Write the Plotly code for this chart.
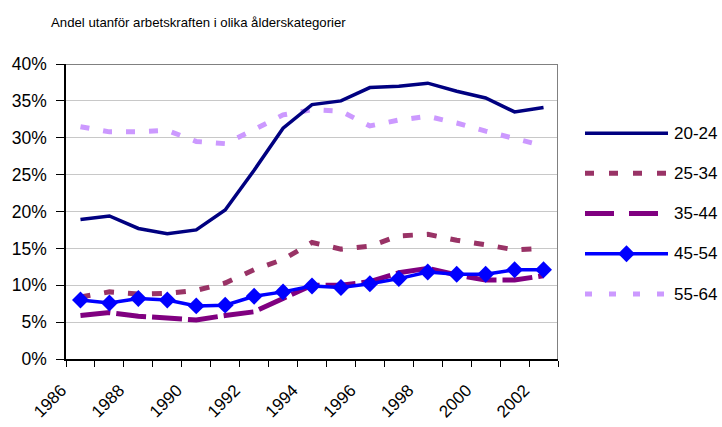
import plotly.graph_objects as go

years = list(range(1986, 2003))
tick_years = [1986, 1988, 1990, 1992, 1994, 1996, 1998, 2000, 2002]
y_ticks = [0, 5, 10, 15, 20, 25, 30, 35, 40]

s20_24 = [18.9, 19.4, 17.7, 17.0, 17.5, 20.2, 25.6, 31.3, 34.5, 35.0, 36.8, 37.0, 37.4, 36.3, 35.4, 33.5, 34.1]
s25_34 = [8.4, 9.1, 8.8, 8.9, 9.3, 10.3, 12.1, 13.5, 15.8, 14.9, 15.3, 16.7, 16.9, 16.1, 15.5, 14.8, 15.0]
s35_44 = [5.9, 6.3, 5.8, 5.5, 5.3, 5.9, 6.4, 8.2, 10.0, 10.0, 10.5, 11.7, 12.3, 11.4, 10.7, 10.7, 11.3]
s45_54 = [8.0, 7.6, 8.2, 8.0, 7.2, 7.3, 8.5, 9.1, 9.9, 9.7, 10.2, 10.9, 11.8, 11.5, 11.5, 12.1, 12.1]
s55_64 = [31.5, 30.8, 30.8, 31.0, 29.5, 29.2, 31.1, 33.1, 33.8, 33.6, 31.6, 32.4, 32.9, 32.0, 30.9, 29.9, 28.9]

names = ["20-24", "25-34", "35-44", "45-54", "55-64"]
series = [s20_24, s25_34, s35_44, s45_54, s55_64]
colors = ["#000080", "#993366", "#800080", "#0000FF", "#CC99FF"]
widths = [3.5, 5, 5, 3.5, 5]
dashes = ["solid", "10px,14px", "30px,6px", "solid", "9px,14px"]
leg_dashes = ["solid", "9px,15px", "29px,15px", "solid", "7px,17px"]
markers = [None, None, None, "diamond", None]

fig = go.Figure()

order = [4, 1, 2, 0, 3]
for i in order:
    kw = dict(mode="lines")
    if markers[i]:
        kw = dict(mode="lines+markers", marker=dict(symbol="diamond", size=13, color=colors[i]))
    fig.add_trace(go.Scatter(x=years, y=series[i], name=names[i], showlegend=False,
                             line=dict(color=colors[i], width=widths[i], dash=dashes[i]), **kw))

plot_w = 492
paper_w = 722 - 66 - 10
dom = plot_w / paper_w
leg_x0 = (585 - 66) / paper_w
leg_x1 = (668 - 66) / paper_w
leg_txt = (672 - 66) / paper_w

# custom legend (drawn in a helper axis)
leg_y = [0.765, 0.63, 0.493, 0.357, 0.22]
for i in range(5):
    fig.add_trace(go.Scatter(x=[0, 1], y=[leg_y[i]] * 2, mode="lines", xaxis="x2", yaxis="y2",
                             showlegend=False, hoverinfo="skip",
                             line=dict(color=colors[i], width=widths[i], dash=leg_dashes[i])))
    if markers[i]:
        fig.add_trace(go.Scatter(x=[0.5], y=[leg_y[i]], mode="markers", xaxis="x2", yaxis="y2",
                                 showlegend=False, hoverinfo="skip",
                                 marker=dict(symbol="diamond", size=13, color=colors[i])))
    fig.add_annotation(x=leg_txt, y=leg_y[i], xref="paper", yref="paper", text=names[i],
                       showarrow=False, xanchor="left", yanchor="middle",
                       font=dict(size=17, color="black"))

fig.add_annotation(x=-17 / paper_w, y=1, xref="paper", yref="paper", yshift=42,
                   text="Andel utanför arbetskraften i olika ålderskategorier", showarrow=False,
                   xanchor="left", yanchor="middle",
                   font=dict(size=13.2, color="black", family="Liberation Sans, Arial"))

fig.update_layout(
    width=722, height=427,
    margin=dict(l=66, r=10, t=64, b=68, autoexpand=False),
    paper_bgcolor="white", plot_bgcolor="white",
    font=dict(family="Liberation Sans, Arial, sans-serif", size=17, color="black"),
    xaxis=dict(domain=[0, dom], range=[1985.5, 2002.5], tickvals=tick_years,
               ticktext=[str(v) for v in tick_years], tickangle=-45, ticks="", ticklen=0,
               showgrid=False, zeroline=False, showline=True, linecolor="black", linewidth=1.5,
               mirror=False, ticklabelstandoff=13, ticklabelshift=-19, automargin=False,
               minor=dict(tickvals=[y - 0.5 for y in years] + [2002.5], ticks="outside",
                          ticklen=6, tickcolor="black", showgrid=False),
               tickfont=dict(size=17)),
    yaxis=dict(range=[0, 40], tickvals=y_ticks, ticktext=[f"{v}%" for v in y_ticks],
               ticks="outside", ticklen=8, automargin=False,
               tickcolor="black", showgrid=True, gridcolor="#C8C8C8", gridwidth=1.2,
               zeroline=False, showline=True, linecolor="black", linewidth=1.5,
               ticklabelstandoff=6, tickfont=dict(size=17.5)),
    xaxis2=dict(domain=[leg_x0, leg_x1], range=[0, 1], visible=False, anchor="y2"),
    yaxis2=dict(domain=[0, 1], range=[0, 1], visible=False, anchor="x2"),
    shapes=[dict(type="line", xref="x", yref="y", x0=1985.5, x1=2002.5, y0=40, y1=40,
                 line=dict(color="#808080", width=2)),
            dict(type="line", xref="x", yref="y", x0=2002.5, x1=2002.5, y0=0, y1=40,
                 line=dict(color="#808080", width=2))],
)

fig.write_html("out.html", config={"displayModeBar": False},
               post_script="document.body.style.margin='0';document.body.style.overflow='hidden';")
